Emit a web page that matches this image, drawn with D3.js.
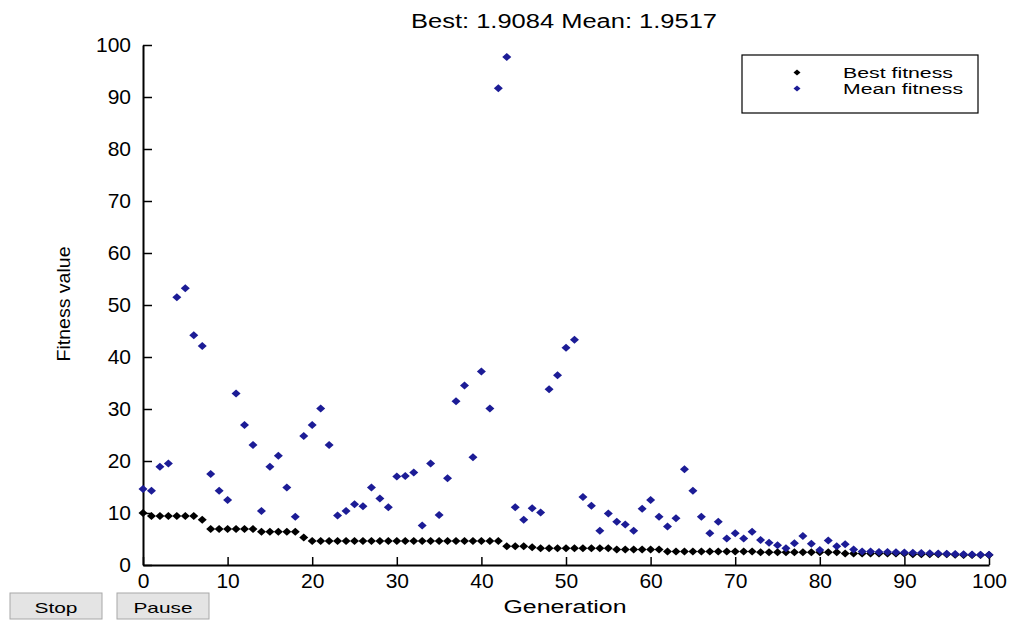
<!DOCTYPE html>
<html>
<head>
<meta charset="utf-8">
<script src="https://cdn.jsdelivr.net/npm/d3@7"></script>
<style>
    body { margin: 0; background: #fff; }
    .container { width: 1011px; height: 620px; }
    text { font-family: "Liberation Sans", Arial, sans-serif; fill: #000; }
</style>
</head>
<body>
<div class="container"></div>
<script>
// Best / mean fitness per generation (generation = array index, 0..100)
const bestFitness = [
    10.0,
    9.4, 9.4, 9.4, 9.4, 9.4, 9.4,
    8.7,
    6.9, 6.9, 6.9, 6.9, 6.9, 6.9,
    6.4, 6.4, 6.4, 6.4, 6.4,
    5.3,
    4.6, 4.6, 4.6, 4.6, 4.6, 4.6, 4.6, 4.6, 4.6, 4.6, 4.6, 4.6,
    4.6, 4.6, 4.6, 4.6, 4.6, 4.6, 4.6, 4.6, 4.6, 4.6, 4.6,
    3.6, 3.6, 3.6,
    3.4,
    3.2, 3.2, 3.2, 3.2, 3.2, 3.2, 3.2, 3.2, 3.2,
    3.0, 3.0, 3.0, 3.0, 3.0, 3.0,
    2.6, 2.6, 2.6, 2.6, 2.6, 2.6, 2.6, 2.6, 2.6, 2.6, 2.6,
    2.45, 2.45, 2.45, 2.45, 2.45, 2.45, 2.45, 2.45, 2.45, 2.45,
    2.2, 2.2, 2.2, 2.2, 2.2, 2.2, 2.2, 2.2,
    2.05, 2.05, 2.05, 2.05, 2.05,
    1.95, 1.93, 1.92, 1.91, 1.9084
]
const meanFitness = [
    14.6, 14.3, 18.9, 19.5, 51.5, 53.2, 44.2, 42.1, 17.5, 14.3,
    12.5, 33.0, 26.9, 23.1, 10.4, 18.9, 21.0, 14.9, 9.3, 24.8,
    26.9, 30.1, 23.1, 9.5, 10.4, 11.7, 11.3, 14.9, 12.8, 11.1,
    17.0, 17.1, 17.8, 7.6, 19.5, 9.6, 16.7, 31.5, 34.5, 20.7,
    37.2, 30.1, 91.7, 97.7, 11.1, 8.7, 10.9, 10.1, 33.8, 36.5,
    41.8, 43.3, 13.1, 11.4, 6.6, 9.9, 8.3, 7.8, 6.6, 10.8,
    12.5, 9.3, 7.4, 9.0, 18.4, 14.3, 9.3, 6.1, 8.3, 5.1,
    6.1, 5.1, 6.4, 4.8, 4.3, 3.8, 3.2, 4.2, 5.6, 4.1,
    2.9, 4.7, 3.6, 4.0, 3.0, 2.6, 2.6, 2.5, 2.5, 2.45,
    2.4, 2.35, 2.3, 2.25, 2.2, 2.15, 2.1, 2.05, 2.0, 1.98,
    1.9517
]
const xTicks = [0, 10, 20, 30, 40, 50, 60, 70, 80, 90, 100]
const yTicks = [0, 10, 20, 30, 40, 50, 60, 70, 80, 90, 100]
const seriesNames = ['Best fitness', 'Mean fitness']
const seriesColors = ['#000000', '#1c1c96']
const buttonLabels = ['Stop', 'Pause']

const width = 1011
const height = 620
const plot = {"left": 143, "right": 989, "top": 45, "bottom": 565}

const svg = d3.select(".container")
    .append("svg")
    .attr("width", width)
    .attr("height", height)

const x = d3.scaleLinear().domain([0, 100]).range([plot.left, plot.right])
const y = d3.scaleLinear().domain([0, 100]).range([plot.bottom, plot.top])

// diamond marker, a bit wider than tall like the matlab ones
const diamond = (w, h) => `M0,${-h}L${w},0L0,${h}L${-w},0Z`

// Axes
svg.append('g')
    .attr('transform', `translate(0, ${plot.bottom})`)
    .call(d3.axisBottom(x).tickValues(xTicks).tickSizeInner(-8).tickSizeOuter(0).tickPadding(8))
svg.append('g')
    .attr('transform', `translate(${plot.left}, 0)`)
    .call(d3.axisLeft(y).tickValues(yTicks).tickSizeInner(-9).tickSizeOuter(0).tickPadding(12))

svg.selectAll('.domain').attr('stroke', '#000').attr('stroke-width', 2)
svg.selectAll('.tick line').attr('stroke', '#000').attr('stroke-width', 1.5)
svg.selectAll('.tick text')
    .attr('font-family', '"Liberation Sans", Arial, sans-serif')
    .attr('font-size', 21)
    .attr('fill', '#222')

// Points
const series = [bestFitness, meanFitness]
series.forEach((values, i) => {
    svg.append('g')
        .selectAll('path')
        .data(values)
        .enter()
        .append('path')
            .attr('d', diamond(4.5, 4))
            .attr('transform', (d, g) => `translate(${x(g)}, ${y(d)})`)
            .attr('fill', seriesColors[i])
})

// Title and labels
const fmt = d3.format('.4f')
svg.append('text')
    .attr('x', (plot.left + plot.right) / 2 - 2)
    .attr('y', 28)
    .attr('text-anchor', 'middle')
    .attr('font-size', 20)
    .attr('textLength', 306)
    .attr('lengthAdjust', 'spacingAndGlyphs')
    .attr('fill', '#111')
    .text(`Best: ${fmt(bestFitness[100])} Mean: ${fmt(meanFitness[100])}`)

svg.append('text')
    .attr('x', 565)
    .attr('y', 613)
    .attr('text-anchor', 'middle')
    .attr('font-size', 18)
    .attr('textLength', 123)
    .attr('lengthAdjust', 'spacingAndGlyphs')
    .attr('fill', '#111')
    .text('Generation')

svg.append('text')
    .attr('transform', 'translate(70, 304) rotate(-90)')
    .attr('text-anchor', 'middle')
    .attr('font-size', 18)
    .attr('textLength', 115)
    .attr('lengthAdjust', 'spacingAndGlyphs')
    .attr('fill', '#111')
    .text('Fitness value')

// Legend
const legend = svg.append('g')
    .attr('id', 'legend')
legend.append('rect')
    .attr('x', 742)
    .attr('y', 55)
    .attr('width', 236)
    .attr('height', 58)
    .attr('fill', '#fff')
    .attr('stroke', '#000')
    .attr('stroke-width', 1.2)
const rows = legend.selectAll('.legend-row')
    .data(seriesNames)
    .enter()
    .append('g')
        .attr('class', 'legend-row')
        .attr('transform', (d, i) => `translate(0, ${72.5 + i * 16})`)
rows.append('path')
    .attr('d', diamond(3.5, 3))
    .attr('transform', 'translate(797, 0)')
    .attr('fill', (d, i) => seriesColors[i])
rows.append('text')
    .attr('x', 843)
    .attr('y', 5)
    .attr('font-size', 14)
    .attr('textLength', (d, i) => i === 0 ? 110 : 120)
    .attr('lengthAdjust', 'spacingAndGlyphs')
    .text(d => d)

// Stop / Pause buttons
const buttons = svg.selectAll('.button')
    .data(buttonLabels)
    .enter()
    .append('g')
        .attr('class', 'button')
        .attr('transform', (d, i) => `translate(${10 + i * 107}, 593)`)
buttons.append('rect')
    .attr('width', 92)
    .attr('height', 26)
    .attr('fill', '#e4e4e4')
    .attr('stroke', '#a8a8a8')
buttons.append('text')
    .attr('x', 46)
    .attr('y', 20)
    .attr('text-anchor', 'middle')
    .attr('font-size', 15)
    .attr('textLength', (d, i) => i === 0 ? 43 : 59)
    .attr('lengthAdjust', 'spacingAndGlyphs')
    .text(d => d)
</script>
</body>
</html>
